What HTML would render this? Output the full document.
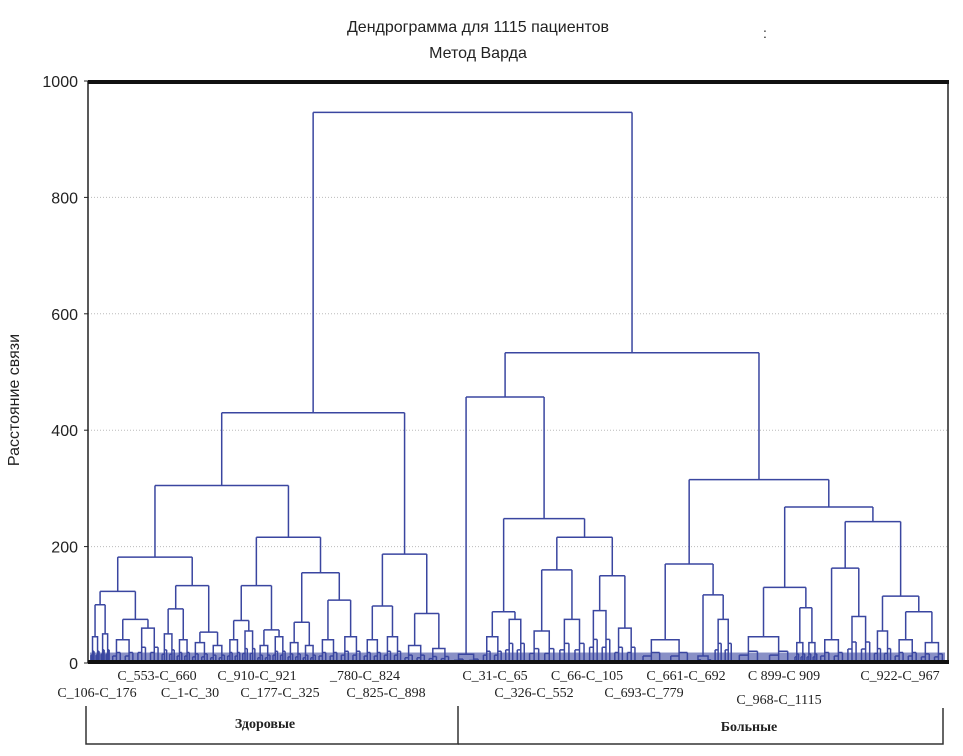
<!DOCTYPE html>
<html><head><meta charset="utf-8"><style>
body{margin:0;background:#fff;width:963px;height:756px;overflow:hidden}
svg{display:block}
</style></head><body>
<svg id="chart" width="963" height="756" xmlns="http://www.w3.org/2000/svg">
<text x="478" y="32" text-anchor="middle" font-family="Liberation Sans, sans-serif" font-size="16" fill="#222">Дендрограмма для 1115 пациентов</text>
<text x="478" y="58" text-anchor="middle" font-family="Liberation Sans, sans-serif" font-size="16" fill="#222">Метод Варда</text>
<text x="763" y="38" font-family="Liberation Sans, sans-serif" font-size="14" fill="#222">:</text>
<text transform="translate(19,400) rotate(-90)" text-anchor="middle" font-family="Liberation Sans, sans-serif" font-size="16" fill="#222">Расстояние связи</text>
<g id="grid"></g>
<g id="tree"></g>
<g id="frame"></g>
<g id="labels" font-family="Liberation Serif, serif" font-size="14" fill="#222" text-anchor="middle"></g>
<g stroke="#333" stroke-width="1.5" fill="none">
<path d="M86,706 V744 H458 V706"/>
<path d="M458,744 H943 V708"/>
</g>
<text x="265" y="728" text-anchor="middle" font-family="Liberation Serif, serif" font-weight="bold" font-size="14" fill="#222">Здоровые</text>
<text x="749" y="731" text-anchor="middle" font-family="Liberation Serif, serif" font-weight="bold" font-size="14" fill="#222">Больные</text>
</svg>
<script>
const yTicks=[0,200,400,600,800,1000];
// tree: node = {h, c:[...]}, leaf = [height, width-weight]
const tree={h:946,c:[
 {h:430,c:[
  {h:305,c:[
   {h:182,c:[
    {h:123,c:[{h:100,c:[[45,10],[50,10]]},{h:75,c:[[40,25],[60,25]]}]},
    {h:133,c:[{h:93,c:[[50,15],[40,15]]},{h:53,c:[[35,18],[30,17]]}]}]},
   {h:216,c:[
    {h:133,c:[{h:73,c:[[40,15],[55,15]]},{h:57,c:[[30,15],[45,15]]}]},
    {h:155,c:[{h:70,c:[[35,15],[30,15]]},{h:108,c:[[40,22],[45,23]]}]}]}]},
  {h:187,c:[{h:98,c:[[40,20],[45,20]]},{h:85,c:[[30,24],[25,24]]}]}]},
 {h:533,c:[
  {h:457,c:[[15,30],
   {h:248,c:[
    {h:88,c:[[45,22],[75,23]]},
    {h:216,c:[{h:160,c:[[55,30],[75,30]]},{h:150,c:[[90,25],[60,25]]}]}]}]},
  {h:315,c:[
   {h:170,c:[[40,55],{h:117,c:[[12,20],[75,20]]}]},
   {h:268,c:[
    {h:130,c:[[45,60],{h:95,c:[[35,12],[35,12]]}]},
    {h:243,c:[{h:163,c:[[40,27],[80,27]]},{h:115,c:[[55,20],{h:88,c:[[40,26],[35,26]]}]}]}]}]}]}]};
const labelsRow1=[["C_553-C_660",157],["C_910-C_921",257],["_780-C_824",365],["C_31-C_65",495],["C_66-C_105",587],["C_661-C_692",686],["C 899-C 909",784],["C_922-C_967",900]];
const labelsRow2=[["C_106-C_176",97],["C_1-C_30",190],["C_177-C_325",280],["C_825-C_898",386],["C_326-C_552",534],["C_693-C_779",644]];
const labelsRow3=[["C_968-C_1115",779]];

const NS="http://www.w3.org/2000/svg";
const X0=90,X1=945,Y0=663,Y1=81;
const y=v=>Y0-(v/1000)*(Y0-Y1);
function mk(tag,attrs,parent){const e=document.createElementNS(NS,tag);for(const k in attrs)e.setAttribute(k,attrs[k]);parent.appendChild(e);return e;}
const grid=document.getElementById('grid');
yTicks.forEach(t=>{
 if(t>0&&t<1000){const g=mk('line',{x1:88,x2:948,y1:y(t),y2:y(t),stroke:'#bbb','stroke-dasharray':'1,2'},grid);
 
 }
 const tk=mk('line',{x1:84,x2:88,y1:y(t),y2:y(t),stroke:'#222'},grid);
 
 
 const tx=mk('text',{x:78,y:y(t)+6,'text-anchor':'end','font-family':'Liberation Sans, sans-serif','font-size':'16',fill:'#222'},grid);
 tx.textContent=t;
 
 
});
function weight(n){return Array.isArray(n)?n[1]:n.c.reduce((s,c)=>s+weight(c),0);}
const total=weight(tree);const scale=(X1-X0)/total;
const treeG=document.getElementById('tree');
let path='';
function layout(n,start){
 if(Array.isArray(n)){
  const w=n[1]*scale,h=n[0];
  const a=start+w*0.25,b=start+w*0.75,m=start+w*0.5;
  path+=`M${a},${y(0)}V${y(h)}H${b}V${y(0)}`;
  const q=[0.1,0.4,0.6,0.9];
  q.forEach((f,i)=>{const xx=start+w*f;const hh=h*(i%2?0.45:0.3);path+=`M${xx},${y(0)}V${y(hh)}`;});
  path+=`M${start+w*0.1},${y(h*0.3)}H${a}M${start+w*0.4},${y(h*0.45)}H${a}M${start+w*0.6},${y(h*0.3)}H${b}M${start+w*0.9},${y(h*0.45)}H${b}`;
  return {x:m,h:h,end:start+w};
 }
 let s=start;const kids=[];
 n.c.forEach(c=>{const r=layout(c,s);kids.push(r);s=r.end;});
 const xl=kids[0].x,xr=kids[kids.length-1].x;
 kids.forEach(k=>{path+=`M${k.x},${y(k.h)}V${y(n.h)}`;});
 path+=`M${xl},${y(n.h)}H${xr}`;
 return {x:(xl+xr)/2,h:n.h,end:s};
}
layout(tree,X0);
const tp=mk('path',{d:path,stroke:'#3a46a0','stroke-width':'1.5',fill:'none'},treeG);


const band=mk('rect',{x:90,y:y(18),width:855,height:y(0)-y(18),fill:'#3a46a0',opacity:'0.6'},treeG);


const fr=document.getElementById('frame');
const f1=mk('path',{d:'M88,663 V81 M948,81 V663',stroke:'#222','stroke-width':'1.5',fill:'none'},fr);


const f2=mk('line',{x1:88,x2:949,y1:82,y2:82,stroke:'#111','stroke-width':'4'},fr);


const f3=mk('line',{x1:88,x2:949,y1:662,y2:662,stroke:'#111','stroke-width':'4'},fr);


const lg=document.getElementById('labels');
[[labelsRow1,680],[labelsRow2,697],[labelsRow3,704]].forEach(([arr,yy])=>arr.forEach(([t,x])=>{
 const e=mk('text',{x:x,y:yy},lg);e.textContent=t;
 
 
}));
</script>
</body></html>
